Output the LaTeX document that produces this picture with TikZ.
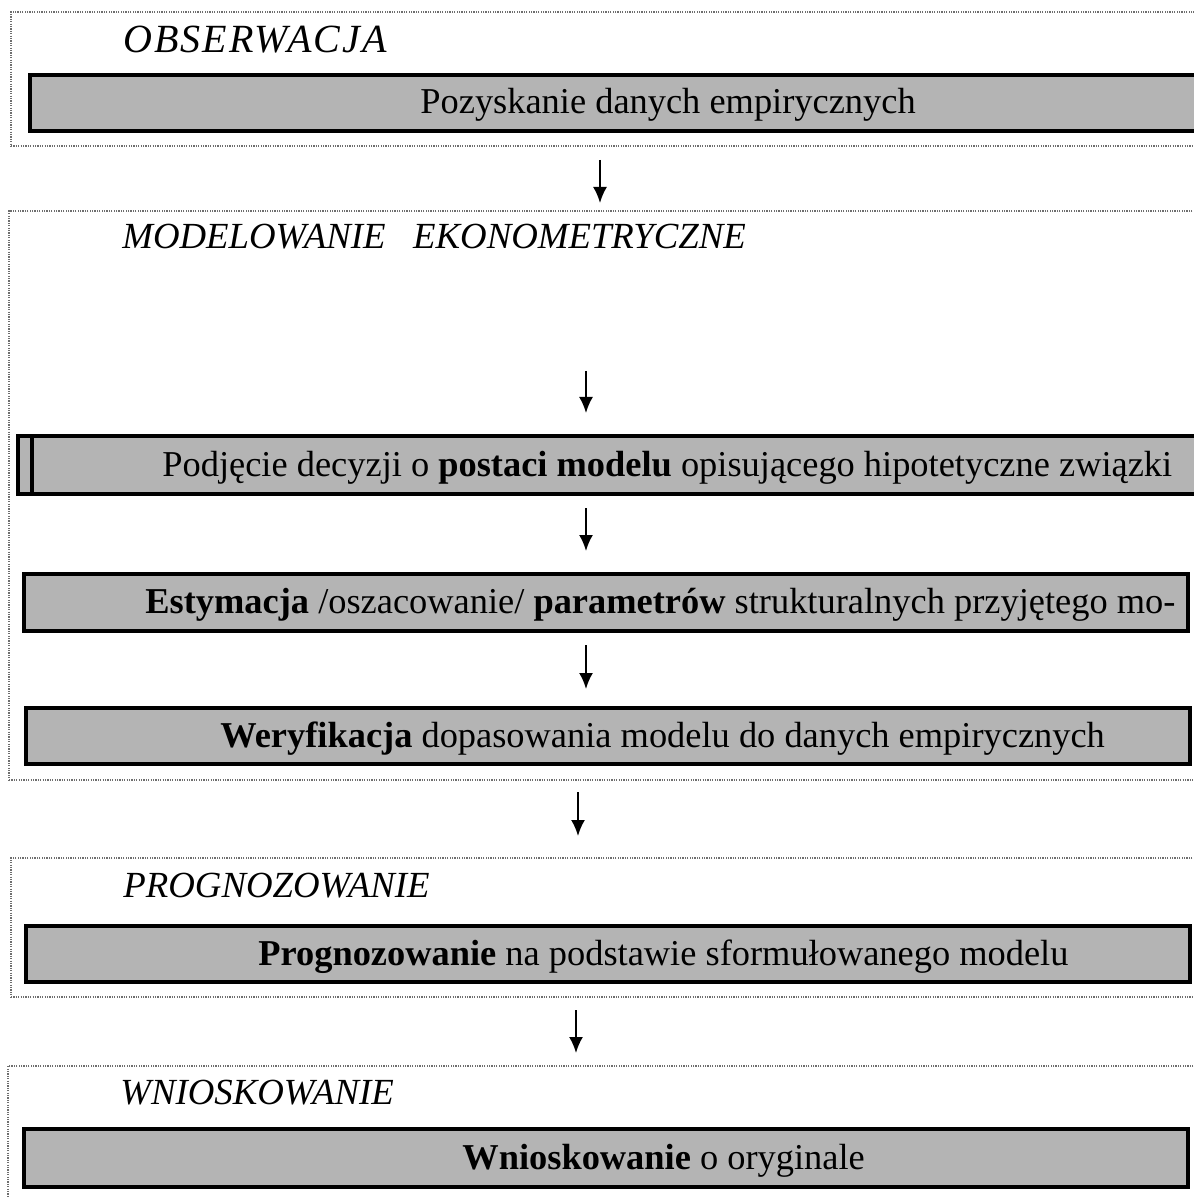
\documentclass[tikz,border=0pt]{standalone}
\usepackage{fontspec}
\setmainfont{Liberation Serif}
\usetikzlibrary{arrows.meta,fit}
\definecolor{barfill}{RGB}{180,180,180}
\definecolor{dotline}{RGB}{110,110,110}
\tikzset{
  stage/.style={draw=dotline, line width=0.6pt, dash pattern=on 0.6pt off 0.6pt, inner sep=0pt},
  bar/.style={draw=black, fill=barfill, line width=1.6pt, inner sep=0pt},
  bartext/.style={anchor=base west, inner sep=0pt, font=\fontsize{18.2}{21}\selectfont},
  title/.style={anchor=base west, inner sep=0pt, font=\fontsize{18.4}{21}\selectfont\itshape},
  flow/.style={line width=1pt, -{Latex[length=8pt,width=7pt]}}
}
\begin{document}
\begin{tikzpicture}[x=0.5pt,y=-0.5pt]
\useasboundingbox (0,0) rectangle (1193,1197);
\fill[white] (0,0) rectangle (1193,1197);
% stage frames
\node[stage, fit={(11,12) (1215,146)}] (s1) {};
\node[stage, fit={(9,211) (1215,780)}] (s2) {};
\node[stage, fit={(11,858) (1215,997)}] (s3) {};
\node[stage, fit={(8,1066) (1215,1215)}] (s4) {};
% titles
\node[title, font=\fontsize{20}{23}\selectfont\itshape] (t1) at (123,53) {\addfontfeature{LetterSpace=5}OBSERWACJA};
\node[title] (t2) at (122,249) {MODELOWANIE\hspace{0.75em}EKONOMETRYCZNE};
\node[title] (t3) at (123,897) {PROGNOZOWANIE};
\node[title] (t4) at (120,1104) {WNIOSKOWANIE};
% bars
\node[bar, fit={(30,75) (1205,131)}] (b1) {};
\node[bar, fit={(18,436) (1200,494)}] (b2) {};
\draw[line width=1.6pt] (32,436) -- (32,494);
\node[bar, fit={(24,574) (1188,631)}] (b3) {};
\node[bar, fit={(26,708) (1190,764)}] (b4) {};
\node[bar, fit={(26,926) (1190,982)}] (b5) {};
\node[bar, fit={(24,1129) (1188,1187)}] (b6) {};
% bar texts
\node[bartext] (x1) at (420,114) {Pozyskanie danych empirycznych};
\node[bartext] (x2) at (162,476) {Podjęcie decyzji o \textbf{postaci modelu} opisującego hipotetyczne związki};
\node[bartext] (x3) at (145,613) {\textbf{Estymacja} /oszacowanie/ \textbf{parametrów} strukturalnych przyjętego mo-};
\node[bartext] (x4) at (220,747) {\textbf{Weryfikacja} dopasowania modelu do danych empirycznych};
\node[bartext] (x5) at (258,965) {\textbf{Prognozowanie} na podstawie sformułowanego modelu};
\node[bartext] (x6) at (462,1169) {\textbf{Wnioskowanie} o oryginale};
% arrows
\coordinate (a1s) at (600,160); \coordinate (a1e) at (600,203);
\coordinate (a2s) at (586,371); \coordinate (a2e) at (586,413);
\coordinate (a3s) at (586,508); \coordinate (a3e) at (586,551);
\coordinate (a4s) at (586,645); \coordinate (a4e) at (586,689);
\coordinate (a5s) at (578,792); \coordinate (a5e) at (578,836);
\coordinate (a6s) at (576,1010); \coordinate (a6e) at (576,1053);
\draw[flow] (a1s) -- (a1e);
\draw[flow] (a2s) -- (a2e);
\draw[flow] (a3s) -- (a3e);
\draw[flow] (a4s) -- (a4e);
\draw[flow] (a5s) -- (a5e);
\draw[flow] (a6s) -- (a6e);
\end{tikzpicture}
\end{document}
